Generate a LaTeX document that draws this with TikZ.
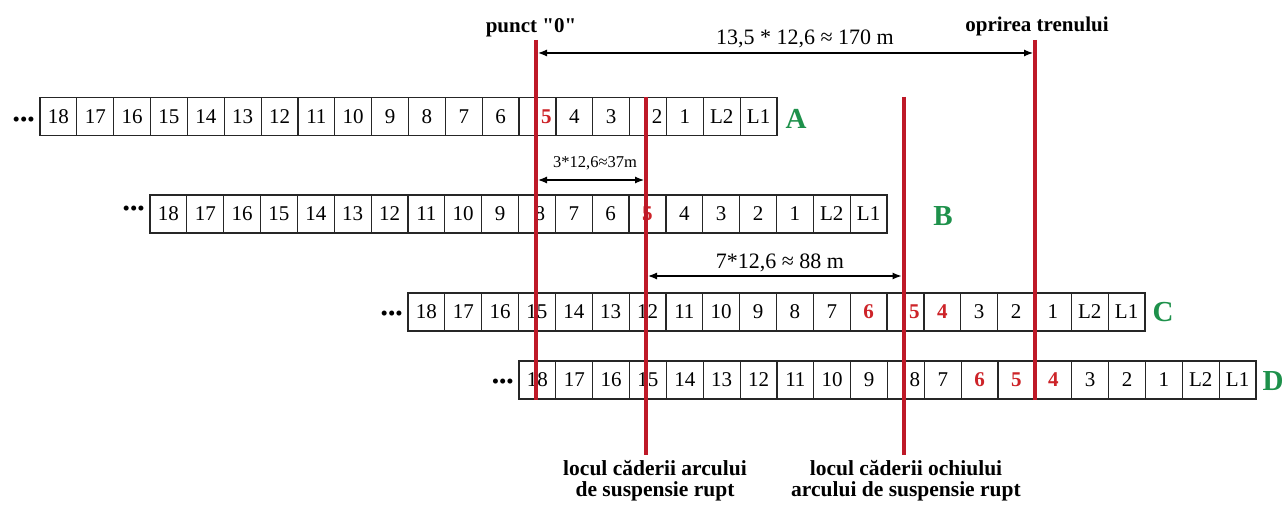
\documentclass[tikz,border=0pt]{standalone}
\usepackage{fontspec}
\setmainfont{Liberation Serif}
\newfontfamily\plainserif{Liberation Serif}
\usetikzlibrary{arrows.meta}
\definecolor{lred}{RGB}{190,25,40}
\definecolor{dred}{RGB}{205,35,40}
\definecolor{lgreen}{RGB}{30,145,75}
\begin{document}
\begin{tikzpicture}[x=1pt,y=-1pt,
  cell/.style={draw=black!85,line width=1.2pt,fill=white,minimum width=36.85pt,minimum height=38pt,inner sep=0pt,outer sep=0pt},
  num/.style={font=\fontsize{21}{21}\selectfont,inner sep=0pt},
  pl/.style={},
  rd/.style={text=dred,font=\bfseries\fontsize{21}{21}\selectfont},
  sh/.style={xshift=9pt},
  sb/.style={xshift=3pt},
  rs/.style={rd,sh},
  dots/.style={font=\fontsize{21}{21}\selectfont,inner sep=0pt,anchor=east},
  rowlab/.style={font=\bfseries\fontsize{29}{29}\selectfont,text=lgreen,inner sep=0pt},
  redline/.style={draw=lred,line width=4pt},
  dim/.style={line width=1.2pt,{Latex[length=9pt,width=7pt]}-{Latex[length=9pt,width=7pt]}},
  head/.style={font=\bfseries\fontsize{21}{21}\selectfont,inner sep=0pt,anchor=base},
  dimlab/.style={font=\fontsize{22}{22}\selectfont,inner sep=0pt,anchor=base},
  botlab/.style={font=\bfseries\fontsize{21.5}{20.5}\selectfont,align=center,inner sep=0pt,anchor=base}
]
\useasboundingbox[fill=white] (0,0) rectangle (1287,505);

% Row A
\foreach \t/\st [count=\i from 0] in {18/pl,17/pl,16/pl,15/pl,14/pl,13/pl,12/pl,11/pl,10/pl,9/pl,8/pl,7/pl,6/pl,5/rs,4/pl,3/pl,2/sh,1/pl,L2/pl,L1/pl}{
  \node[cell] (A\i) at ({40+36.85*(\i+0.5)},116.5) {};
  \node[num,\st] (At\i) at (A\i) {\t};
}
% Row B
\foreach \t/\st [count=\i from 0] in {18/pl,17/pl,16/pl,15/pl,14/pl,13/pl,12/pl,11/pl,10/pl,9/pl,8/sb,7/pl,6/pl,5/rd,4/pl,3/pl,2/pl,1/pl,L2/pl,L1/pl}{
  \node[cell] (B\i) at ({150+36.85*(\i+0.5)},214) {};
  \node[num,\st] (Bt\i) at (B\i) {\t};
}
% Row C
\foreach \t/\st [count=\i from 0] in {18/pl,17/pl,16/pl,15/pl,14/pl,13/pl,12/pl,11/pl,10/pl,9/pl,8/pl,7/pl,6/rd,5/rs,4/rd,3/pl,2/pl,1/pl,L2/pl,L1/pl}{
  \node[cell] (C\i) at ({408+36.85*(\i+0.5)},312) {};
  \node[num,\st] (Ct\i) at (C\i) {\t};
}
% Row D
\foreach \t/\st [count=\i from 0] in {18/pl,17/pl,16/pl,15/pl,14/pl,13/pl,12/pl,11/pl,10/pl,9/pl,8/sh,7/pl,6/rd,5/rd,4/rd,3/pl,2/pl,1/pl,L2/pl,L1/pl}{
  \node[cell] (D\i) at ({519+36.85*(\i+0.5)},380) {};
  \node[num,\st] (Dt\i) at (D\i) {\t};
}

% leading dots
\node[dots] (Ad) at ([xshift=-5pt,yshift=-5.5pt]A0.west) {•••};
\node[dots] (Bd) at ([xshift=-5pt,yshift=3pt]B0.west) {•••};
\node[dots] (Cd) at ([xshift=-5pt,yshift=-3.5pt]C0.west) {•••};
\node[dots] (Dd) at ([xshift=-5pt,yshift=-3.5pt]D0.west) {•••};

% row letters
\node[rowlab] (LA) at (796,119) {A};
\node[rowlab] (LB) at (943,216) {B};
\node[rowlab] (LC) at (1163,312) {C};
\node[rowlab] (LD) at (1273,381) {D};

% red vertical lines
\coordinate (r1t) at (536,40);   \coordinate (r1b) at (536,400);
\coordinate (r2t) at (646,97);   \coordinate (r2b) at (646,455);
\coordinate (r3t) at (903.5,97); \coordinate (r3b) at (903.5,455);
\coordinate (r4t) at (1035,40);  \coordinate (r4b) at (1035,400);
\draw[redline] (r1t) -- (r1b);
\draw[redline] (r2t) -- (r2b);
\draw[redline] (r3t) -- (r3b);
\draw[redline] (r4t) -- (r4b);

% dimension arrows
\coordinate (d1a) at (538,53);   \coordinate (d1b) at (1033,53);
\coordinate (d2a) at (538,180);  \coordinate (d2b) at (644,180);
\coordinate (d3a) at (648,276);  \coordinate (d3b) at (901.5,276);
\draw[dim] (d1a) -- (d1b);
\draw[dim] (d2a) -- (d2b);
\draw[dim] (d3a) -- (d3b);

% labels
\node[head] (punct) at (531,33) {\plainserif\bfseries punct "0"};
\node[head] (opr) at (1037,32) {oprirea trenului};
\node[dimlab] (m1) at (805,45) {13,5 * 12,6 ≈ 170 m};
\node[dimlab,font=\fontsize{16.5}{16.5}\selectfont] (m2) at (595,168) {3*12,6≈37m};
\node[dimlab] (m3) at (780,268) {7*12,6 ≈ 88 m};
\node[botlab] (b1) at (655,496) {locul căderii arcului\\de suspensie rupt};
\node[botlab] (b2) at (906,496) {locul căderii ochiului\\arcului de suspensie rupt};
\end{tikzpicture}
\end{document}
